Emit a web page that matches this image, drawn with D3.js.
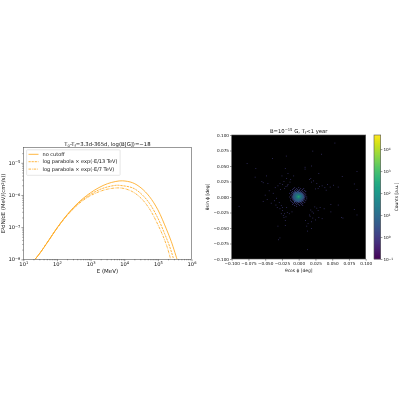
<!DOCTYPE html>
<html><head><meta charset="utf-8">
<script src="https://cdn.jsdelivr.net/npm/d3@7"></script>
<style>
html,body{margin:0;padding:0;background:#fff}
svg{display:block;filter:blur(0.33px)}
text{font-family:"DejaVu Sans";fill:#111}
</style></head><body><svg id="c" width="400" height="400"></svg>
<script>
// ---- left panel: spectra (log10 E, log10 E²dN/dE)
const logE      = [1.35,1.5,1.75,2,2.25,2.5,2.75,3,3.25,3.5,3.75,3.95,4.25,4.5,4.75,5,5.25,5.4,5.57];
const noCutoff  = [-8,-7.8,-7.42,-7.03,-6.68,-6.38,-6.13,-5.93,-5.77,-5.65,-5.58,-5.56,-5.62,-5.78,-6.05,-6.46,-7.05,-7.45,-8];
const logE13    = [1.35,1.5,1.75,2,2.25,2.5,2.75,3,3.25,3.5,3.75,3.85,4.25,4.5,4.75,5,5.2,5.35,5.47];
const cut13     = [-8,-7.8,-7.42,-7.03,-6.69,-6.4,-6.16,-5.98,-5.84,-5.75,-5.7,-5.7,-5.78,-5.96,-6.26,-6.72,-7.2,-7.6,-8];
const logE7     = [1.35,1.5,1.75,2,2.25,2.5,2.75,3,3.25,3.5,3.8,4,4.25,4.5,4.75,5,5.15,5.27,5.38];
const cut7      = [-8,-7.8,-7.42,-7.04,-6.7,-6.42,-6.19,-6.02,-5.9,-5.82,-5.78,-5.8,-5.9,-6.1,-6.43,-6.92,-7.27,-7.6,-8];
const legendLabels = ["no cutoff","log parabola × exp(-E/13 TeV)","log parabola × exp(-E/7 TeV)"];
const xDecades = [1,2,3,4,5,6];
const yDecades = [-8,-7,-6,-5];
// ---- right panel: counts
const thetaTicks = [-0.1,-0.075,-0.05,-0.025,0,0.025,0.05,0.075,0.1];
const cbDecades = [-1,0,1,2,3,4];
const coreX = [-15,-13.5,-12,-10.5,-9,-7.5,-6,-4.5,-3,-1.5,0,1.5,3,4.5,6,7.5,9,10.5,12,13.5,15];
const coreY = [15,13.5,12,10.5,9,7.5,6,4.5,3,1.5,0,-1.5,-3,-4.5,-6,-7.5,-9,-10.5,-12,-13.5,-15];
const coreCounts = [
[0,0,0,0,0,0,1,0,0,0,1,0,0,0,0,0,0,0,0,0,0],
[0,0,0,0,0,1,0,0,1,0,0,0,1,0,0,1,0,0,0,0,0],
[0,0,0,0,1,0,0,1,0,2,0,1,0,0,1,0,0,0,0,0,0],
[0,0,1,0,0,0,2,0,1,0,2,1,0,1,0,0,1,0,0,0,0],
[0,0,0,0,1,0,1,2,0,3,1,0,2,0,1,0,0,1,0,0,0],
[0,0,0,1,0,2,2,3,3,2,4,3,1,2,0,1,0,0,0,0,0],
[0,1,0,0,2,2,3,5,6,7,6,5,4,3,1,0,1,0,0,0,0],
[0,0,0,1,0,3,5,8,12,14,16,12,8,5,3,1,0,1,0,0,0],
[0,0,1,0,2,3,7,14,26,40,50,36,22,10,5,2,1,0,0,0,0],
[0,0,0,1,1,4,8,16,45,110,190,100,40,14,7,3,0,1,0,0,0],
[0,1,0,0,3,5,9,18,60,210,900,190,50,16,8,3,1,0,1,0,0],
[0,0,0,1,2,4,8,14,38,95,150,85,32,13,6,3,1,0,0,0,0],
[0,0,1,0,1,3,6,10,20,32,40,28,16,8,5,2,0,0,1,0,0],
[0,0,0,0,1,2,4,6,9,12,14,10,7,5,2,1,1,0,0,0,0],
[0,0,1,0,0,2,2,4,5,6,7,5,3,2,3,0,0,1,0,0,0],
[0,0,0,1,0,0,3,2,2,3,3,2,3,1,0,1,0,0,0,0,0],
[0,0,0,0,1,0,1,0,2,0,2,1,0,1,0,0,1,0,0,0,0],
[0,0,0,0,0,1,0,1,0,1,0,0,1,0,1,0,0,0,0,0,0],
[0,0,0,0,1,0,0,0,1,0,1,0,0,1,0,0,0,0,0,0,0],
[0,0,0,0,0,0,1,0,0,0,0,1,0,0,1,0,0,0,0,0,0],
[0,0,0,0,0,0,0,0,1,0,0,0,0,0,0,0,0,0,0,0,0]];
// sparse cells: x, y in 0.001 deg
const haloX = [-39,-18.5,-77,-64,-65,-48,-55,-53,-46,-35,-44,-50,-20,-16,-7.5,-25,-12,-18,-22,-28,-31,-19,-24,-16,-27,-21,-13,-17,-38,-33,
 54,21,34,9.5,9.5,19,30,87,65,83,87,52,43,39,59,31,47,35,27,22,18,25,41,29,16,19,
 -89,-28,-30,-31,-20,-20,-32,-24,-18,-26,-21,-14,-10,-47,-41,-53,-34,-24,-28,-23,-19,-17,-36,-29,-26,-22,
 13,64,66,87,83,59,48,48,38,32,35,30,19,13,25,14,10,22,29,17,12,27,20,16,24,19,18,21];
const haloY = [62,66,54,46,32,34,25,23,22,15,10,3,46,38,34,34,28,30,25,22,18,17,20,20,12,14,24,18,6,-2,
 87,74,69,48,45,50,38,41,33,21,12,19,20,15,16,17,16,18,22,26,30,13,11,14,28,24,
 -15,-66,-69,-47,-46,-38,-17,-17,-17,-27,-27,-27,-24,-4,-10,-7,-13,-22,-19,-30,-32,-25,-6,-9,-14,-33,
 -85,-33,-34,-29,-20,-13,-12,-24,-19,-17,-35,-33,-51,-55,-37,-43,-38,-26,-22,-31,-47,-18,-24,-29,-16,-40,-21,-34];

const svg = d3.select("#c");
function pow10Label(sel, exp, size){
  sel.text(null);
  sel.append("tspan").text("10");
  sel.append("tspan").attr("dy","-0.45em").attr("font-size",size*0.7).text(String(exp).replace("-","−"));
}
function styleAxis(g){
  g.selectAll("path.domain").remove();
  g.selectAll("line").attr("stroke","#222").attr("stroke-width",0.45);
}
function frame(x,y,w,h){
  svg.append("rect").attr("x",x).attr("y",y).attr("width",w).attr("height",h)
   .attr("fill","none").attr("stroke","#555").attr("stroke-width",0.6);
}

// ---------- left panel ----------
const L={l:23.3,r:191.5,t:147.7,b:259.3};
const xL=d3.scaleLog().domain([1e1,1e6]).range([L.l,L.r]);
const yL=d3.scaleLog().domain([1e-8,Math.pow(10,-4.53)]).range([L.b,L.t]);
svg.append("defs").append("clipPath").attr("id","cl").append("rect")
 .attr("x",L.l).attr("y",L.t).attr("width",L.r-L.l).attr("height",L.b-L.t);
const line=d3.line().curve(d3.curveCatmullRom.alpha(0.5));
const series=[[logE,noCutoff,null],[logE13,cut13,"2.2,0.9"],[logE7,cut7,"2.6,0.9,0.7,0.9"]];
const orange="#ffa91f";
series.forEach(([xs,ys,dash])=>{
  svg.append("path").attr("clip-path","url(#cl)")
   .attr("d",line(xs.map((v,i)=>[xL(Math.pow(10,v)),yL(Math.pow(10,ys[i]))])))
   .attr("fill","none").attr("stroke",orange).attr("stroke-width",0.85)
   .attr("stroke-dasharray",dash);
});
frame(L.l,L.t,L.r-L.l,L.b-L.t);
const minorX=[];xDecades.slice(0,-1).forEach(d=>{for(let m=2;m<10;m++)minorX.push(m*Math.pow(10,d));});
const gxL=svg.append("g").attr("transform",`translate(0,${L.b})`);
gxL.call(d3.axisBottom(xL).tickValues(xDecades.map(d=>Math.pow(10,d))).tickSize(1.9).tickPadding(1));
gxL.selectAll("text").attr("font-size",5.2).each(function(d,i){pow10Label(d3.select(this),xDecades[i],5.2);});
styleAxis(gxL);
const gxLm=svg.append("g").attr("transform",`translate(0,${L.b})`);
gxLm.call(d3.axisBottom(xL).tickValues(minorX).tickSize(1).tickFormat(""));styleAxis(gxLm);
const gyL=svg.append("g").attr("transform",`translate(${L.l},0)`);
gyL.call(d3.axisLeft(yL).tickValues(yDecades.map(d=>Math.pow(10,d))).tickSize(1.9).tickPadding(1));
gyL.selectAll("text").attr("font-size",5.2).each(function(d,i){pow10Label(d3.select(this),yDecades[i],5.2);});
styleAxis(gyL);
const minorY=[];[-8,-7,-6,-5].forEach(d=>{for(let m=2;m<10;m++){const v=m*Math.pow(10,d);if(v<Math.pow(10,-4.53))minorY.push(v);}});
const gyLm=svg.append("g").attr("transform",`translate(${L.l},0)`);
gyLm.call(d3.axisLeft(yL).tickValues(minorY).tickSize(1).tickFormat(""));styleAxis(gyLm);

const t1=svg.append("text").attr("x",(L.l+L.r)/2).attr("y",145.6).attr("text-anchor","middle").attr("font-size",5.3);
t1.append("tspan").text("T");t1.append("tspan").attr("dy",1).attr("font-size",3.7).text("0");
t1.append("tspan").attr("dy",-1).text("-T");t1.append("tspan").attr("dy",1).attr("font-size",3.7).text("f");
t1.append("tspan").attr("dy",-1).text("=3.3d-365d, log(B[G])=−18");
svg.append("text").attr("x",(L.l+L.r)/2).attr("y",273).attr("text-anchor","middle").attr("font-size",5.5).text("E (MeV)");
const yl=svg.append("text").attr("transform",`translate(5.2,${(L.t+L.b)/2}) rotate(-90)`).attr("text-anchor","middle").attr("font-size",5.3);
yl.append("tspan").text("E");yl.append("tspan").attr("dy",-1.6).attr("font-size",3.7).text("2");
yl.append("tspan").attr("dy",1.6).text("dN/dE (MeV/(cm");yl.append("tspan").attr("dy",-1.6).attr("font-size",3.7).text("2");
yl.append("tspan").attr("dy",1.6).text("/s))");
// legend
svg.append("rect").attr("x",26.6).attr("y",149.8).attr("width",93.5).attr("height",25.5).attr("rx",0.8)
 .attr("fill","#fff").attr("fill-opacity",0.85).attr("stroke","#ccc").attr("stroke-width",0.5);
legendLabels.forEach((t,i)=>{
  const y=154.3+i*7.4;
  svg.append("line").attr("x1",28.5).attr("x2",38.5).attr("y1",y).attr("y2",y)
   .attr("stroke",orange).attr("stroke-width",0.85).attr("stroke-dasharray",series[i][2]);
  svg.append("text").attr("x",42.5).attr("y",y+1.7).attr("font-size",5).text(t);
});

// ---------- right panel ----------
const R={l:231.7,r:365.7,t:135,b:259};
const xR=d3.scaleLinear().domain([-0.1,0.1]).range([R.l,R.r]);
const yR=d3.scaleLinear().domain([-0.1,0.1]).range([R.b,R.t]);
const topLog=4.64;
const color=d3.scaleSequentialLog(d3.interpolateViridis).domain([0.1,Math.pow(10,topLog)]);
svg.append("rect").attr("x",R.l).attr("y",R.t).attr("width",R.r-R.l).attr("height",R.b-R.t).attr("fill","#000");
const cells=[];
haloX.forEach((x,i)=>cells.push({x:x/1000,y:haloY[i]/1000,c:1,w:0.0012}));
coreCounts.forEach((row,j)=>row.forEach((c,i)=>{if(c>0)cells.push({x:coreX[i]/1000,y:coreY[j]/1000,c,w:c>2?0.00185:0.0013});}));
svg.append("g").selectAll("rect").data(cells).join("rect")
 .attr("x",d=>xR(d.x-d.w/2)).attr("y",d=>yR(d.y+d.w/2))
 .attr("width",d=>xR(d.w)-xR(0)).attr("height",d=>yR(0)-yR(d.w))
 .attr("fill",d=>color(d.c));
frame(R.l,R.t,R.r-R.l,R.b-R.t);
const fmt=v=>(v<0?"−":"")+Math.abs(v).toFixed(3);
const gxR=svg.append("g").attr("transform",`translate(0,${R.b})`);
gxR.call(d3.axisBottom(xR).tickValues(thetaTicks).tickSize(1.7).tickPadding(1).tickFormat(fmt));
gxR.selectAll("text").attr("font-size",4.2);styleAxis(gxR);
const gyR=svg.append("g").attr("transform",`translate(${R.l},0)`);
gyR.call(d3.axisLeft(yR).tickValues(thetaTicks).tickSize(1.7).tickPadding(1).tickFormat(fmt));
gyR.selectAll("text").attr("font-size",4.2);styleAxis(gyR);
const t2=svg.append("text").attr("x",(R.l+R.r)/2).attr("y",132.9).attr("text-anchor","middle").attr("font-size",5.3);
t2.append("tspan").text("B=10");t2.append("tspan").attr("dy",-1.8).attr("font-size",3.7).text("−15");
t2.append("tspan").attr("dy",1.8).text(" G, T");t2.append("tspan").attr("dy",1).attr("font-size",3.7).text("f");
t2.append("tspan").attr("dy",-1).text("<1 year");
svg.append("text").attr("x",(R.l+R.r)/2).attr("y",272.4).attr("text-anchor","middle").attr("font-size",4.4).text("θcos ϕ [deg]");
svg.append("text").attr("transform",`translate(208.5,${(R.t+R.b)/2}) rotate(-90)`).attr("text-anchor","middle").attr("font-size",4.4).text("θsin ϕ [deg]");
// colorbar
const CB={l:374,r:380.7};
const yC=d3.scaleLog().domain([0.1,Math.pow(10,topLog)]).range([R.b,R.t]);
const cbSteps=d3.range(0,124);
svg.append("g").selectAll("rect").data(cbSteps).join("rect")
 .attr("x",CB.l).attr("width",CB.r-CB.l)
 .attr("y",d=>R.b-d-1).attr("height",1.3)
 .attr("fill",d=>color(yC.invert(R.b-d-0.5)));
frame(CB.l,R.t,CB.r-CB.l,R.b-R.t);
const gC=svg.append("g").attr("transform",`translate(${CB.r},0)`);
gC.call(d3.axisRight(yC).tickValues(cbDecades.map(d=>Math.pow(10,d))).tickSize(1.7).tickPadding(1));
gC.selectAll("text").attr("font-size",4.2).each(function(d,i){pow10Label(d3.select(this),cbDecades[i],4.2);});
styleAxis(gC);
svg.append("text").attr("transform",`translate(397.5,${(R.t+R.b)/2}) rotate(-90)`).attr("text-anchor","middle").attr("font-size",4.4).text("Counts [a.u.]");
</script></body></html>
